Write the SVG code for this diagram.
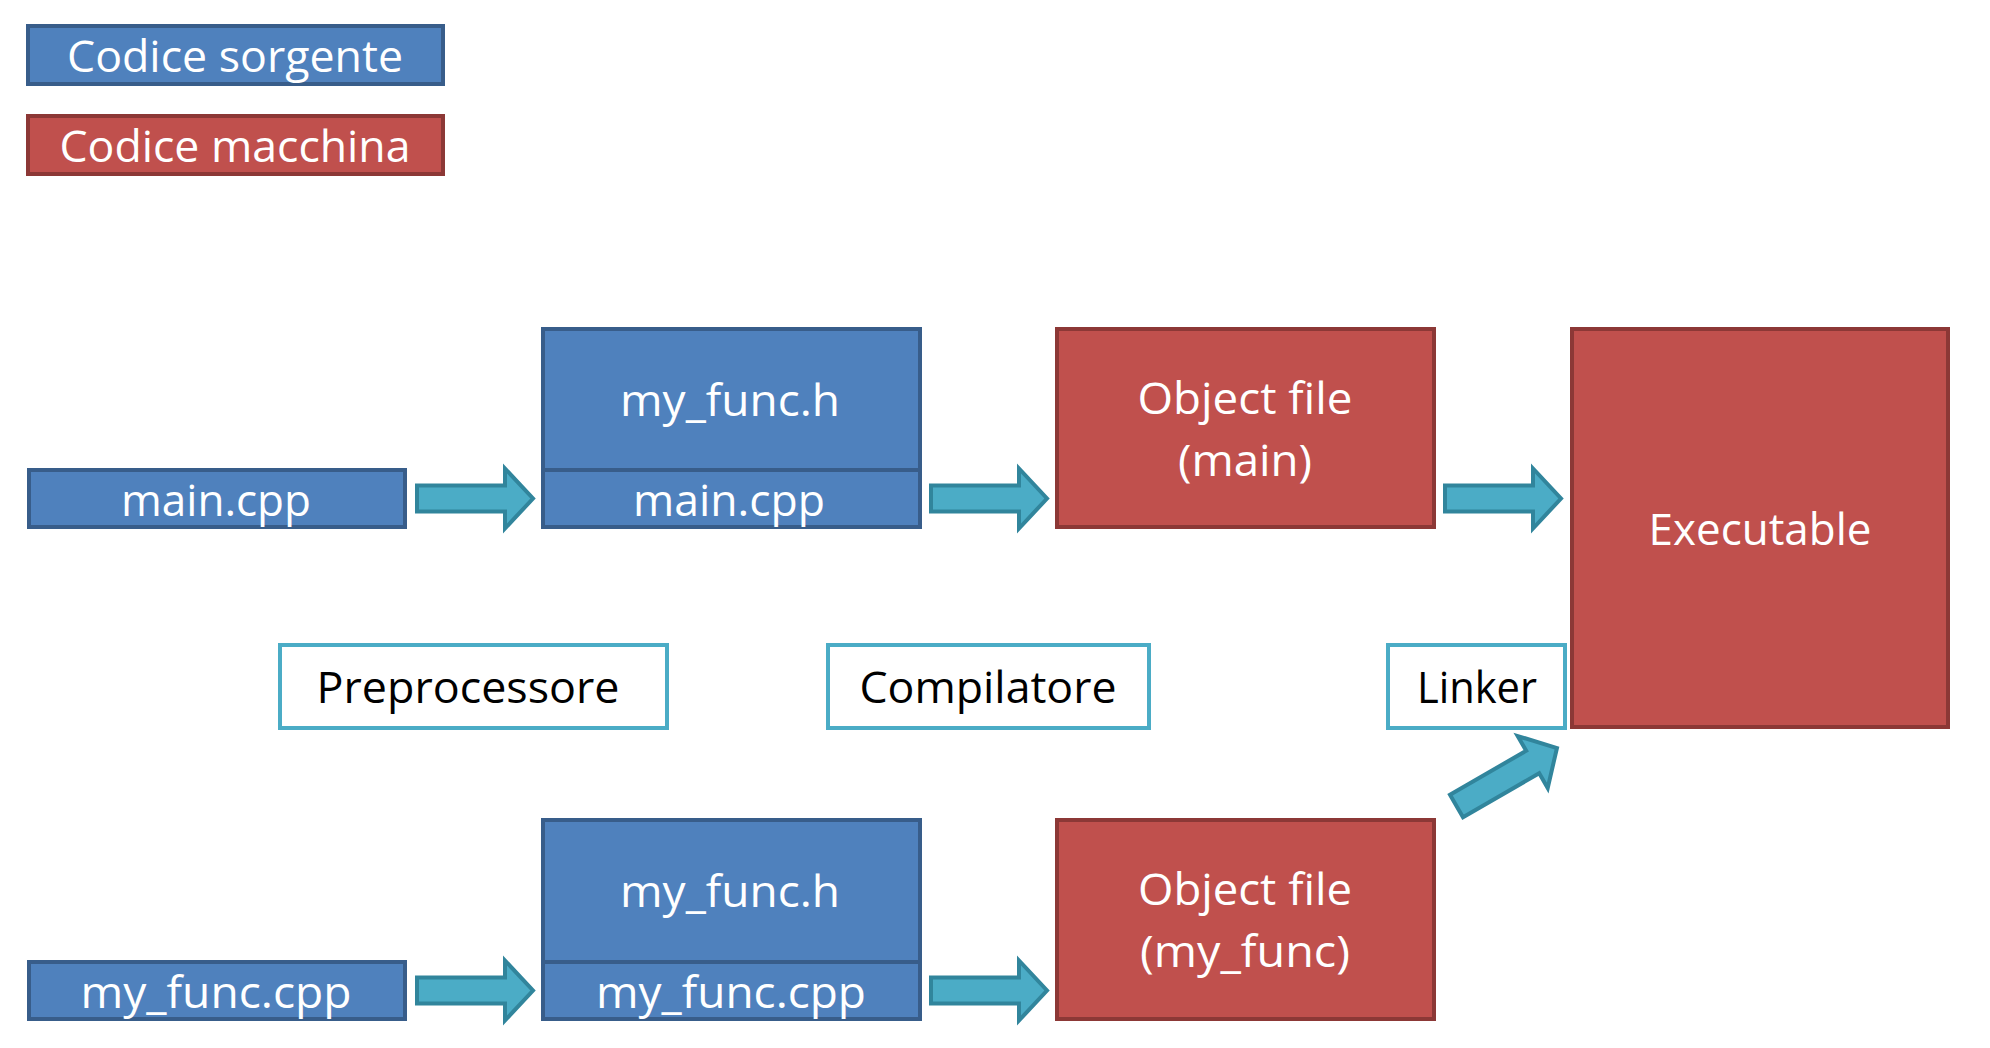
<svg xmlns="http://www.w3.org/2000/svg" width="1990" height="1048" viewBox="0 0 1990 1048">
<style>
  text { font-family: "Open Sans", "Noto Sans", "Liberation Sans", sans-serif; font-size: 44px; text-anchor: middle; }
  .src { fill: #4F81BD; stroke: #385D8A; stroke-width: 4; }
  .bin { fill: #C0504D; stroke: #8C3836; stroke-width: 4; }
  .tool { fill: #FFFFFF; stroke: #4BACC6; stroke-width: 4; }
  .w { fill: #FFFFFF; }
  .k { fill: #000000; }
  .arrow { fill: #4BACC6; stroke: #31859C; stroke-width: 4; stroke-linejoin: miter; }
</style>
<defs>
  <path id="arr" d="M0,-13 H88 V-30 L116,0 L88,30 V13 H0 Z"/>
</defs>
<rect width="1990" height="1048" fill="#FFFFFF"/>

<g id="legend-sorgente">
  <rect class="src" x="28" y="26" width="415" height="58"/>
  <text class="w" x="235" y="72" font-size="46" textLength="336" lengthAdjust="spacingAndGlyphs">Codice sorgente</text>
</g>
<g id="legend-macchina">
  <rect class="bin" x="28" y="116" width="415" height="58"/>
  <text class="w" x="235" y="162" font-size="46" textLength="351" lengthAdjust="spacingAndGlyphs">Codice macchina</text>
</g>

<g id="main-cpp">
  <rect class="src" x="29" y="470" width="376" height="57"/>
  <text class="w" x="216" y="516" textLength="190" lengthAdjust="spacingAndGlyphs">main.cpp</text>
</g>
<g id="pre-main">
  <rect class="src" x="543" y="329" width="377" height="141"/>
  <rect class="src" x="543" y="470" width="377" height="57"/>
  <text class="w" x="730" y="416" textLength="220" lengthAdjust="spacingAndGlyphs">my_func.h</text>
  <text class="w" x="729" y="516" textLength="192" lengthAdjust="spacingAndGlyphs">main.cpp</text>
</g>
<g id="obj-main">
  <rect class="bin" x="1057" y="329" width="377" height="198"/>
  <text class="w" x="1245" y="414" textLength="215" lengthAdjust="spacingAndGlyphs">Object file</text>
  <text class="w" x="1245" y="476" textLength="134" lengthAdjust="spacingAndGlyphs">(main)</text>
</g>
<g id="executable">
  <rect class="bin" x="1572" y="329" width="376" height="398"/>
  <text class="w" x="1760" y="545" textLength="223" lengthAdjust="spacingAndGlyphs">Executable</text>
</g>

<g id="preprocessore">
  <rect class="tool" x="280" y="645" width="387" height="83"/>
  <text class="k" x="468" y="703" textLength="303" lengthAdjust="spacingAndGlyphs">Preprocessore</text>
</g>
<g id="compilatore">
  <rect class="tool" x="828" y="645" width="321" height="83"/>
  <text class="k" x="988" y="703" textLength="257" lengthAdjust="spacingAndGlyphs">Compilatore</text>
</g>
<g id="linker">
  <rect class="tool" x="1388" y="645" width="177" height="83"/>
  <text class="k" x="1477" y="703" textLength="120" lengthAdjust="spacingAndGlyphs">Linker</text>
</g>

<g id="myfunc-cpp">
  <rect class="src" x="29" y="962" width="376" height="57"/>
  <text class="w" x="216" y="1008" textLength="271" lengthAdjust="spacingAndGlyphs">my_func.cpp</text>
</g>
<g id="pre-myfunc">
  <rect class="src" x="543" y="820" width="377" height="142"/>
  <rect class="src" x="543" y="962" width="377" height="57"/>
  <text class="w" x="730" y="907" textLength="220" lengthAdjust="spacingAndGlyphs">my_func.h</text>
  <text class="w" x="731" y="1008" textLength="270" lengthAdjust="spacingAndGlyphs">my_func.cpp</text>
</g>
<g id="obj-myfunc">
  <rect class="bin" x="1057" y="820" width="377" height="199"/>
  <text class="w" x="1245" y="905" textLength="214" lengthAdjust="spacingAndGlyphs">Object file</text>
  <text class="w" x="1245" y="967" textLength="210" lengthAdjust="spacingAndGlyphs">(my_func)</text>
</g>

<g id="connectors">
  <use href="#arr" class="arrow" transform="translate(417,498.5)"/>
  <use href="#arr" class="arrow" transform="translate(931,498.5)"/>
  <use href="#arr" class="arrow" transform="translate(1445,498.5)"/>
  <use href="#arr" class="arrow" transform="translate(417,990.5)"/>
  <use href="#arr" class="arrow" transform="translate(931,990.5)"/>
  <use href="#arr" class="arrow" transform="translate(1456.5,806) rotate(-30)"/>
</g>
</svg>
